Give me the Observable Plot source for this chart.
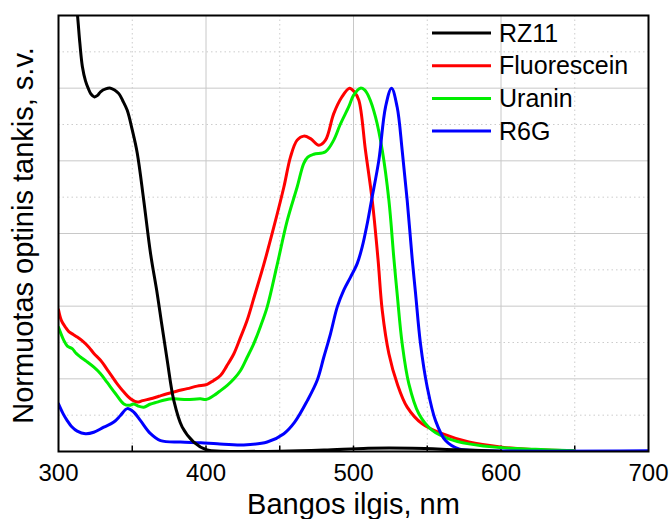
<!DOCTYPE html>
<html>
<head>
<meta charset="utf-8">
<script src="https://cdn.jsdelivr.net/npm/d3@7"></script>
<script src="https://cdn.jsdelivr.net/npm/@observablehq/plot@0.6"></script>
<style>
  html, body { margin: 0; padding: 0; background: #fff; }
  #chart { width: 670px; height: 519px; }
</style>
</head>
<body>
<div id="chart"></div>
<script>
// ---- Data ----
const seriesNames = ["RZ11", "Fluorescein", "Uranin", "R6G"];
const seriesColors = ["#000000", "#ff0000", "#00ee00", "#0000ff"];

const rz11X = [300, 305, 310, 312.9, 314.5, 316.2, 318.3, 320.1, 322, 324.4, 326.5, 328.5, 332, 335.3, 338, 340.9, 343.5, 346.6, 350, 353.4, 357.8, 362.4, 366.9, 370, 373.7, 378.2, 383.9, 391.7, 400.8, 410, 450, 480, 510, 540, 570, 600];
const rz11Y = [1.85, 1.55, 1.32, 1.2, 1.123, 1.059, 1.02, 1.0, 0.984, 0.976, 0.98, 0.99, 0.998, 1.0, 0.995, 0.985, 0.966, 0.939, 0.885, 0.821, 0.691, 0.545, 0.435, 0.35, 0.251, 0.14, 0.067, 0.026, 0.004, 0.001, 0.001, 0.004, 0.009, 0.009, 0.005, 0.001];

const fluorX = [300, 302, 304.7, 307, 310, 312.7, 316, 320.6, 324, 328.5, 334, 339.8, 344, 348.8, 353.4, 357, 362.4, 368, 373.7, 380, 387.3, 394, 400.8, 405, 409.8, 414, 418.9, 423, 427.9, 433, 439.2, 446, 452.8, 457.3, 461.8, 466.3, 470.9, 476.5, 481, 486.6, 492, 497.3, 500.5, 503.6, 508.1, 512.7, 516.6, 519.5, 524, 529.6, 536.4, 546.6, 560.2, 578.2, 600.8, 623.4, 650];
const fluorY = [0.39, 0.36, 0.342, 0.33, 0.322, 0.315, 0.305, 0.287, 0.27, 0.251, 0.22, 0.186, 0.165, 0.145, 0.136, 0.14, 0.145, 0.152, 0.159, 0.166, 0.173, 0.18, 0.185, 0.195, 0.209, 0.235, 0.269, 0.31, 0.361, 0.43, 0.515, 0.618, 0.728, 0.811, 0.857, 0.868, 0.861, 0.843, 0.857, 0.93, 0.975, 1.0, 0.99, 0.967, 0.829, 0.691, 0.53, 0.388, 0.269, 0.187, 0.122, 0.076, 0.049, 0.026, 0.012, 0.005, 0.002];

const uraninX = [300, 303.6, 306, 309.3, 312, 314.9, 319, 324, 328.5, 333, 338.7, 344.3, 348, 351.1, 354, 357.8, 362, 366.9, 372, 378.2, 387, 396.3, 400, 405.3, 409, 414.4, 419, 423.4, 428, 432.4, 437, 441.5, 448.3, 455.1, 461.8, 466.3, 469, 473.1, 481, 486.6, 491, 496.8, 500, 504.7, 507.5, 510.4, 514.9, 519.5, 524, 527.4, 529.6, 533, 537.5, 544.3, 553.4, 564.6, 578.2, 600.8, 623.4, 650];
const uraninY = [0.342, 0.306, 0.29, 0.283, 0.27, 0.26, 0.248, 0.232, 0.214, 0.19, 0.159, 0.131, 0.127, 0.131, 0.125, 0.122, 0.13, 0.136, 0.142, 0.145, 0.143, 0.145, 0.143, 0.154, 0.165, 0.182, 0.2, 0.223, 0.26, 0.297, 0.345, 0.398, 0.515, 0.636, 0.728, 0.793, 0.81, 0.818, 0.825, 0.857, 0.9, 0.949, 0.98, 1.0, 0.995, 0.976, 0.921, 0.829, 0.691, 0.53, 0.434, 0.297, 0.187, 0.104, 0.058, 0.035, 0.021, 0.01, 0.006, 0.002];

const r6gX = [300, 303, 305.9, 309, 312.7, 318.3, 323.9, 330.7, 337.5, 342, 346.6, 351.1, 355.6, 362.4, 369.2, 382.7, 396.3, 407.6, 425.6, 441.5, 452.8, 460, 468.7, 475.4, 479.9, 484.4, 489, 493.4, 498, 502.5, 505.9, 509.3, 512.2, 517.2, 521.7, 525.8, 529.6, 533, 536.4, 539.8, 542.1, 545.4, 550, 555.6, 562.4, 571.4, 582.7, 700];
const r6gY = [0.131, 0.105, 0.085, 0.068, 0.056, 0.049, 0.053, 0.067, 0.081, 0.099, 0.118, 0.108, 0.085, 0.049, 0.03, 0.026, 0.024, 0.021, 0.018, 0.026, 0.049, 0.08, 0.14, 0.196, 0.26, 0.324, 0.398, 0.444, 0.48, 0.517, 0.563, 0.627, 0.691, 0.802, 0.948, 1.0, 0.948, 0.829, 0.691, 0.53, 0.434, 0.297, 0.177, 0.085, 0.03, 0.007, 0.003, 0.002];

const xTicks = [300, 400, 500, 600, 700];
const xMinor = [350, 450, 550, 650];
const xMajorGrid = [400, 500, 600];
const yMajorGrid = [0.2, 0.4, 0.6, 0.8, 1.0];
const yMinorGrid = [0.1, 0.3, 0.5, 0.7, 0.9, 1.1];
const xLabel = "Bangos ilgis, nm";
const yLabel = "Normuotas optinis tankis, s.v.";

// ---- Build tables ----
const toRows = (xs, ys, name) => xs.map((x, i) => ({x, y: ys[i], name}));
const rz11 = toRows(rz11X, rz11Y, "RZ11");
const fluor = toRows(fluorX, fluorY, "Fluorescein");
const uranin = toRows(uraninX, uraninY, "Uranin");
const r6g = toRows(r6gX, r6gY, "R6G");

const font = "'Liberation Sans', Arial, sans-serif";

function legend(index, scales, values, dims) {
  const g = d3.create("svg:g");
  const x0 = dims.width - dims.marginRight - 216;
  const y0 = dims.marginTop + 18;
  const step = 32.7;
  seriesNames.forEach((name, i) => {
    const y = y0 + i * step;
    g.append("line")
      .attr("x1", x0).attr("x2", x0 + 59)
      .attr("y1", y).attr("y2", y)
      .attr("stroke", seriesColors[i]).attr("stroke-width", 3);
    g.append("text")
      .attr("x", x0 + 67).attr("y", y).attr("dy", "0.35em")
      .attr("text-anchor", "start")
      .attr("font-size", 25).attr("font-family", font)
      .attr("fill", "#000")
      .text(name);
  });
  return g.node();
}

const lineOpts = (c) => ({x: "x", y: "y", stroke: c, strokeWidth: 3, curve: "catmull-rom", clip: true});

const chart = Plot.plot({
  width: 670,
  height: 519,
  marginLeft: 58,
  marginTop: 15,
  marginRight: 22,
  marginBottom: 68,
  style: {fontFamily: font, fontSize: "24px", background: "#fff", color: "#000"},
  x: {domain: [300, 700]},
  y: {domain: [0, 1.2]},
  marks: [
    Plot.gridX(xMinor, {stroke: "#cccccc", strokeOpacity: 1, strokeDasharray: "1.5,3"}),
    Plot.gridY(yMinorGrid, {stroke: "#cccccc", strokeOpacity: 1, strokeDasharray: "1.5,3"}),
    Plot.gridX(xMajorGrid, {stroke: "#c8c8c8", strokeOpacity: 1}),
    Plot.gridY(yMajorGrid, {stroke: "#c8c8c8", strokeOpacity: 1}),
    Plot.axisX({ticks: xTicks, tickSize: 0, tickPadding: 12, fontSize: 24, label: null}),
    Plot.axisY({ticks: [], label: null}),
    Plot.ruleX(xMinor.concat(xMajorGrid), {y1: 0, y2: 0.015, stroke: "#000", strokeWidth: 1.5}),
    Plot.line(fluor, lineOpts(seriesColors[1])),
    Plot.line(uranin, lineOpts(seriesColors[2])),
    Plot.line(r6g, lineOpts(seriesColors[3])),
    Plot.line(rz11, lineOpts(seriesColors[0])),
    Plot.frame({stroke: "#000", strokeWidth: 2}),
    legend,
    Plot.text([xLabel], {frameAnchor: "bottom", lineAnchor: "middle", textAnchor: "middle", dy: 53, fontSize: 29, fill: "#000"}),
    Plot.text([yLabel], {frameAnchor: "left", lineAnchor: "middle", textAnchor: "middle", dx: -35, dy: 2, rotate: -90, fontSize: 29, fill: "#000"})
  ]
});
document.getElementById("chart").appendChild(chart);
</script>
</body>
</html>
